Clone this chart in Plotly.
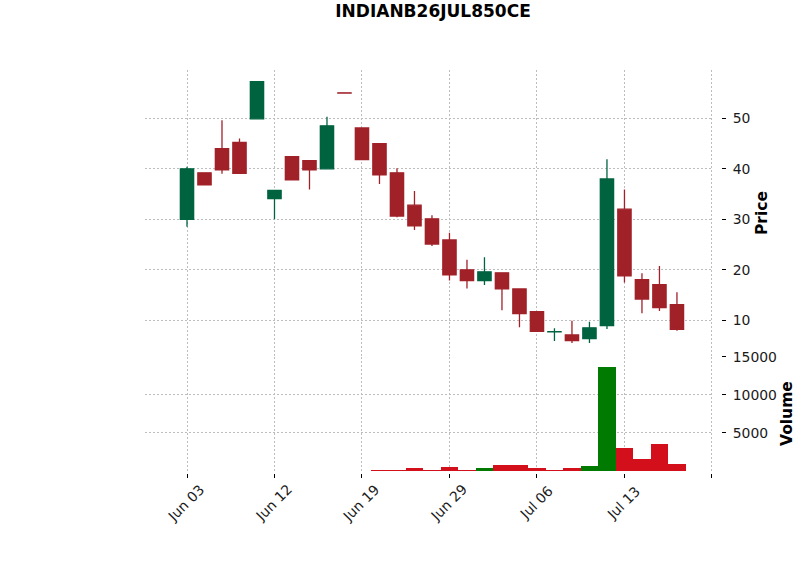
import plotly.graph_objects as go

# ---------------- data ----------------
dates = ["Jun 03", "Jun 04", "Jun 05", "Jun 07", "Jun 10", "Jun 12", "Jun 13", "Jun 14",
         "Jun 17", "Jun 18", "Jun 19", "Jun 20", "Jun 21", "Jun 24", "Jun 27", "Jun 29",
         "Jul 01", "Jul 02", "Jul 03", "Jul 04", "Jul 06", "Jul 08", "Jul 09", "Jul 10",
         "Jul 11", "Jul 13", "Jul 15", "Jul 16", "Jul 17"]
open_ = [30.0, 39.2, 44.0, 45.2, 49.9, 34.1, 42.4, 41.6, 40.0, 55.05, 48.1, 45.0, 39.2,
         32.8, 30.1, 25.9, 20.0, 17.85, 19.4, 16.2, 11.7, 7.7, 7.1, 6.35, 8.95, 32.0,
         18.05, 17.05, 13.1]
high = [40.4, 39.2, 49.6, 46.0, 57.25, 35.7, 42.4, 41.6, 50.3, 55.05, 48.1, 45.0, 40.1,
        35.6, 30.8, 27.35, 22.0, 22.5, 19.4, 16.2, 11.8, 8.4, 9.9, 9.7, 41.9, 35.9,
        19.3, 20.75, 15.55]
low = [28.5, 36.8, 39.0, 39.1, 49.9, 30.0, 37.8, 35.9, 40.0, 55.0, 41.8, 37.0, 30.4,
       27.9, 24.7, 17.9, 16.3, 17.0, 12.0, 8.6, 7.7, 5.9, 5.5, 5.5, 8.3, 17.5,
       11.4, 11.85, 7.95]
close = [40.0, 36.8, 39.8, 39.1, 57.25, 35.7, 37.8, 39.8, 48.5, 55.0, 41.8, 38.8, 30.65,
         28.7, 25.1, 19.0, 17.85, 19.6, 16.25, 11.3, 7.8, 7.75, 6.0, 8.5, 38.0, 18.8,
         14.2, 12.5, 8.2]
volume = [0, 0, 0, 0, 0, 0, 0, 0, 0, 0, 0, 120, 100, 400, 150, 530, 260, 400, 920, 790,
          400, 260, 400, 660, 13680, 3030, 1580, 3550, 1050]

title = "INDIANB26JUL850CE"
tick_step = 5
price_ticks = [10, 20, 30, 40, 50]
volume_ticks = [5000, 10000, 15000]

# ---------------- styling ----------------
UP = "#006340"
DOWN = "#a02128"
VUP = "#007a00"
VDOWN = "#d40f1c"
FONT = "DejaVu Sans"
GRID = "#bdbdbd"
DASH = "2px,2px"

idx = list(range(len(dates)))
vcolors = [VUP if i > 0 and close[i] > close[i - 1] else VDOWN for i in idx]

fig = go.Figure()
fig.add_trace(go.Candlestick(
    x=idx, open=open_, high=high, low=low, close=close,
    increasing=dict(fillcolor=UP, line=dict(color=UP, width=1.3)),
    decreasing=dict(fillcolor=DOWN, line=dict(color=DOWN, width=1.3)),
    whiskerwidth=0, xaxis="x", yaxis="y", showlegend=False, hoverinfo="skip",
))
fig.add_trace(go.Bar(
    x=idx, y=volume, width=1.0, marker=dict(color=vcolors, line=dict(width=0)),
    xaxis="x", yaxis="y2", showlegend=False, hoverinfo="skip",
))

tickvals = list(range(0, len(dates) + 2, tick_step))
ticktext = [dates[i] if i < len(dates) else "" for i in tickvals]

L, R, T, B = 145, 721, 70, 473
W, H = 800, 575
pw, ph = R - L, B - T
xdom_end = (713 - L) / pw
price_bot = (B - 356.5) / ph
vol_bot = (B - 471) / ph

axis_font = dict(family=FONT, size=13.9, color="#1a1a1a")
grid = dict(showgrid=True, gridcolor=GRID, griddash=DASH, gridwidth=0.8,
            showline=False, zeroline=False)

fig.update_layout(
    width=W, height=H,
    margin=dict(l=L, r=W - R, t=T, b=H - B, pad=0),
    paper_bgcolor="white", plot_bgcolor="white",
    boxgap=0.24, boxgroupgap=0,
    title=dict(text="<b>" + title + "</b>", x=0.5, xref="paper", xanchor="center",
               y=1 - 11 / H, yanchor="middle", font=dict(family=FONT, size=17, color="black")),
    xaxis=dict(domain=[0, xdom_end], range=[-2.4, 30.06], anchor="free", position=0,
               tickvals=tickvals, showticklabels=False,
               ticks="outside", ticklen=4, tickcolor="black", tickwidth=1,
               rangeslider=dict(visible=False), **grid),
    yaxis=dict(domain=[price_bot, 1], range=[2.83, 59.56], side="right",
               anchor="free", position=1.0,
               tickvals=price_ticks, ticktext=[str(v) for v in price_ticks],
               ticks="outside", ticklen=4, tickcolor="black", ticklabelstandoff=4,
               tickfont=axis_font, **grid),
    yaxis2=dict(domain=[vol_bot, price_bot], range=[0, 15050], side="right",
                anchor="free", position=1.0,
                tickvals=volume_ticks, ticktext=[str(v) for v in volume_ticks],
                ticks="outside", ticklen=4, tickcolor="black", ticklabelstandoff=4,
                tickfont=axis_font, **grid),
    bargap=0,
)

def px_x(p):
    return (p - L) / pw

def px_y(p):
    return (B - p) / ph

# rotated date labels centred under their ticks (matplotlib style)
for tv, tt in zip(tickvals, ticktext):
    if tt:
        fig.add_annotation(text=tt, x=tv - 0.08, xref="x", y=px_y(502.5), yref="paper",
                           textangle=-45, showarrow=False, xanchor="center", yanchor="middle",
                           font=axis_font)

fig.add_annotation(text="<b>Price</b>", x=px_x(762), y=px_y(213), xref="paper", yref="paper",
                   textangle=-90, showarrow=False, xanchor="center", yanchor="middle",
                   font=dict(family=FONT, size=15.5, color="black"))
fig.add_annotation(text="<b>Volume</b>", x=px_x(787), y=px_y(414), xref="paper", yref="paper",
                   textangle=-90, showarrow=False, xanchor="center", yanchor="middle",
                   font=dict(family=FONT, size=15.5, color="black"))

fig.write_html("out.html")
